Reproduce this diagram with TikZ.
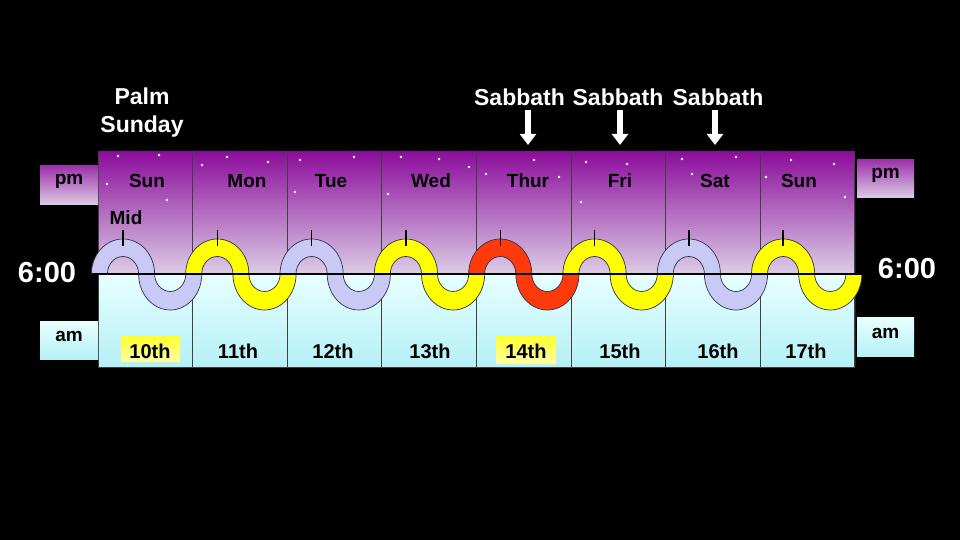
\documentclass[tikz,border=0pt]{standalone}
\usepackage{fontspec}
\setmainfont{Liberation Sans}
\usetikzlibrary{arrows.meta}
\definecolor{purpletop}{HTML}{8C0E9C}
\definecolor{purplebot}{HTML}{DCCDE6}
\definecolor{cyantop}{HTML}{E8FFFF}
\definecolor{cyanbot}{HTML}{B4F0F6}
\definecolor{lav}{HTML}{C9C9F5}
\definecolor{yel}{HTML}{FFFF00}
\definecolor{redw}{HTML}{FF3A0A}
\definecolor{tubeline}{HTML}{303050}
\definecolor{colgray}{HTML}{404040}
\definecolor{hltop}{HTML}{FFFF30}
\definecolor{hlbot}{HTML}{FFFFA8}
\begin{document}
\begin{tikzpicture}[x=1pt,y=1pt,
  lbl/.style={font=\bfseries\fontsize{19}{19}\selectfont, text=black, inner sep=0pt},
  datelbl/.style={font=\bfseries\fontsize{20}{20}\selectfont, text=black, inner sep=0pt},
  wlbl/.style={font=\bfseries\fontsize{23}{28}\selectfont, text=white, align=center, inner sep=0pt},
  timelbl/.style={font=\bfseries\fontsize{29}{29}\selectfont, text=white, inner sep=0pt},
  tube/.style={draw=tubeline, line width=0.7pt},
  colline/.style={draw=colgray, line width=0.8pt},
  sabarrow/.style={draw=white, line width=5.5pt, -{Triangle[width=16pt,length=11pt]}},
  pmbox/.style={top color=purpletop!85!white, bottom color=purplebot},
  ambox/.style={top color=cyantop, bottom color=cyanbot}
]
\fill[black] (0,0) rectangle (960,540);
\useasboundingbox (0,0) rectangle (960,540);

% main band
\shade[top color=purpletop, bottom color=purplebot] (98,266) rectangle (855,388);
\shade[top color=cyantop, bottom color=cyanbot] (98,173) rectangle (855,266);
\foreach \k in {0,...,8} {
  \draw[colline] ({98+94.6*\k},173) -- ({98+94.6*\k},388);
}
\draw[colline] (98,173) -- (855,173);

% stars
\foreach \x/\y in {118/156,159/155,107/184,167/200,202/165,227/157,268/162,300/160,295/192,
  354/157,401/157,439/159,469/167,388/194,486/174,534/160,559/177,586/162,627/164,581/202,
  682/159,736/157,692/174,791/160,834/164,766/177,845/197} {
  \fill[white] (\x,{540-\y}) circle (1.3);
}

% side boxes
\shade[pmbox] (40,335) rectangle (98,374);
\node[lbl] (pmL) at (69,359) {pm};
\shade[ambox] (40,180) rectangle (98,218);
\node[lbl] (amL) at (69,204) {am};
\shade[pmbox] (857,342) rectangle (914,380);
\node[lbl] (pmR) at (885.5,365) {pm};
\shade[ambox] (857,183) rectangle (914,222);
\node[lbl] (amR) at (885.5,207) {am};

% highlight boxes
\shade[top color=hltop, bottom color=hlbot] (121,178) rectangle (180,203);
\shade[top color=hltop, bottom color=hlbot] (496,176) rectangle (556,203);

% tubes
\foreach \i/\c in {0/lav,1/yel,2/lav,3/yel,4/redw,5/yel,6/lav,7/yel} {
  \pgfmathsetmacro\cx{123+94.3*\i}
  \begin{scope}[shift={(\cx,266)}]
    \filldraw[tube, fill=\c] (-31.6,0)
      arc[start angle=180, end angle=0, x radius=31.6, y radius=35]
      arc[start angle=180, end angle=360, x radius=15.6, y radius=17.5]
      -- (78.8,0)
      arc[start angle=0, end angle=-180, x radius=31.6, y radius=36]
      arc[start angle=0, end angle=180, x radius=15.6, y radius=17.5]
      -- cycle;
    \draw[line width=1.4pt] (0,28) -- (0,44);
  \end{scope}
}

% 6:00 line
\coordinate (lineL) at (92,266);
\coordinate (lineR) at (863,266);
\draw[line width=2pt] (lineL) -- (lineR);

% day labels
\foreach \x/\t [count=\n] in {147/Sun,247/Mon,331/Tue,431/Wed,528/Thur,620/Fri,715/Sat,799/Sun} {
  \node[lbl] (day\n) at (\x,359) {\t};
}
% dates
\foreach \x/\t [count=\n] in {150/10th,238/11th,333/12th,430/13th,526/14th,620/15th,718/16th,806/17th} {
  \node[datelbl] (date\n) at (\x,189) {\t};
}
\node[lbl] (mid) at (126,322) {Mid};

% times
\node[timelbl] (sixL) at (47,267) {6:00};
\node[timelbl] (sixR) at (907,271) {6:00};

% top labels
\node[wlbl] (palm) at (142,427) {Palm\\Sunday};
\node[wlbl] (sab1) at (519.5,443) {Sabbath};
\node[wlbl] (sab2) at (618,443) {Sabbath};
\node[wlbl] (sab3) at (718,443) {Sabbath};
\coordinate (a1s) at (528,430); \coordinate (a1e) at (528,395);
\coordinate (a2s) at (620,430); \coordinate (a2e) at (620,395);
\coordinate (a3s) at (715,430); \coordinate (a3e) at (715,395);
\draw[sabarrow] (a1s) -- (a1e);
\draw[sabarrow] (a2s) -- (a2e);
\draw[sabarrow] (a3s) -- (a3e);
\end{tikzpicture}
\end{document}
